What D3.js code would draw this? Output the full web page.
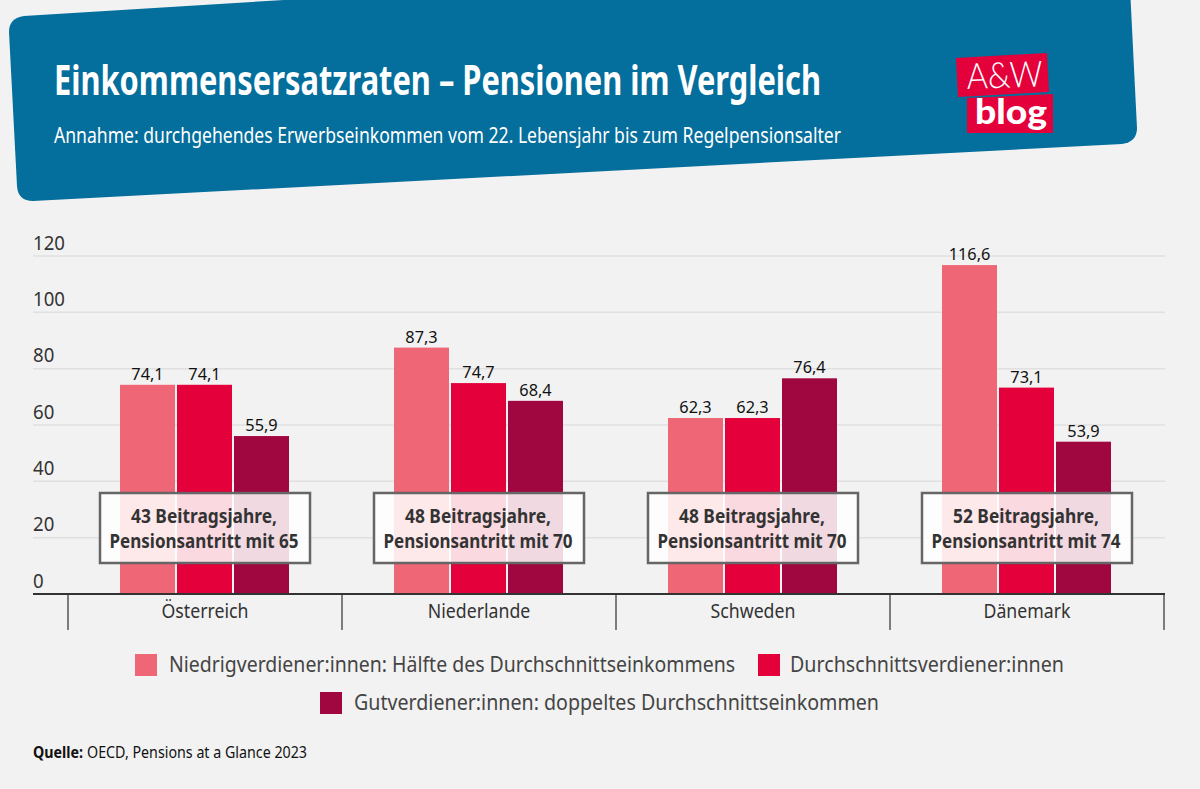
<!DOCTYPE html>
<html lang="de">
<head>
<meta charset="utf-8">
<title>Einkommensersatzraten</title>
<script src="https://cdn.jsdelivr.net/npm/d3@7"></script>
<style>
  html, body { margin: 0; padding: 0; background: #f2f2f2; }
  svg { display: block; }
  text { font-family: "Noto Sans", sans-serif; fill: #333; }
</style>
</head>
<body>
<svg id="chart" width="1200" height="789"></svg>
<script>
// Data.
const countries = ['Österreich', 'Niederlande', 'Schweden', 'Dänemark'];
const groups = ['niedrig', 'mittel', 'hoch'];
const niedrig = [74.1, 87.3, 62.3, 116.6];
const mittel = [74.1, 74.7, 62.3, 73.1];
const hoch = [55.9, 68.4, 76.4, 53.9];
const boxLine1 = ['43 Beitragsjahre,', '48 Beitragsjahre,', '48 Beitragsjahre,', '52 Beitragsjahre,'];
const boxLine2 = ['Pensionsantritt mit 65', 'Pensionsantritt mit 70', 'Pensionsantritt mit 70', 'Pensionsantritt mit 74'];
const yTicks = [0, 20, 40, 60, 80, 100, 120];
const legendLabels = [
  'Niedrigverdiener:innen: Hälfte des Durchschnittseinkommens',
  'Durchschnittsverdiener:innen',
  'Gutverdiener:innen: doppeltes Durchschnittseinkommen'
];

const seriesByGroup = { niedrig, mittel, hoch };
const colour = d3.scaleOrdinal().domain(groups).range(['#ef6676', '#e4003a', '#a00640']);

const svg = d3.select('#chart');

// Squeeze Noto Sans to the narrower widths of the original typeface.
function fit(sel, width) {
  sel.attr('textLength', width).attr('lengthAdjust', 'spacingAndGlyphs');
  return sel;
}
function squeeze(sel, k) {
  sel.each(function () {
    const w = this.getComputedTextLength();
    d3.select(this).attr('textLength', w * k).attr('lengthAdjust', 'spacingAndGlyphs');
  });
  return sel;
}

// Header banner
svg.append('path')
  .attr('fill', '#046e9c')
  .attr('d', 'M24,16 L1128,-52 L1137,128 Q1137,142 1122,144 L33,201 Q18,201 17,186 L9,32 Q9,18 24,16 Z');

fit(svg.append('text').attr('x', 54).attr('y', 95)
  .attr('font-size', 42).attr('font-weight', 700).style('fill', '#fff')
  .text('Einkommensersatzraten – Pensionen im Vergleich'), 767);

fit(svg.append('text').attr('x', 54).attr('y', 143)
  .attr('font-size', 22).style('fill', '#fff')
  .text('Annahme: durchgehendes Erwerbseinkommen vom 22. Lebensjahr bis zum Regelpensionsalter'), 787);

// Logo
svg.append('polygon').attr('points', '956,58 1047,53 1049,92 958,97').attr('fill', '#e4003a');
svg.append('polygon').attr('points', '967,98 1053,94 1053,133 967,133').attr('fill', '#e4003a');
fit(svg.append('text').attr('transform', 'translate(967,89) rotate(-2)')
  .attr('font-size', 36).style('font-family', 'Lato').attr('font-weight', 300).style('fill', '#fff')
  .text('A&W'), 76);
fit(svg.append('text').attr('x', 975).attr('y', 124)
  .attr('font-size', 34).style('font-family', 'Lato').attr('font-weight', 900).style('fill', '#fff')
  .text('blog'), 72);

// Scales
const x = d3.scaleBand().domain(countries).range([68, 1164]);
const xInner = d3.scaleBand().domain(groups).range([x.bandwidth() / 2 - 85, x.bandwidth() / 2 + 84]).paddingInner(2 / 57).paddingOuter(0);
const y = d3.scaleLinear().domain([0, 120]).range([593.5, 255.5]);

// Gridlines and y labels (labels sit on top of their gridline)
const yAxis = d3.axisLeft(y).tickValues(yTicks).tickSize(-1132).tickPadding(0);
const yG = svg.append('g').attr('transform', 'translate(1165,0)');
yG.call(d3.axisRight(y).tickValues(yTicks).tickSize(-1132).tickFormat(''));
yG.select('.domain').remove();
yG.selectAll('.tick line').attr('stroke', '#e0e0e0').attr('stroke-width', 1.5);

const yLabels = svg.append('g').attr('transform', 'translate(33,0)');
yLabels.call(yAxis.tickSize(0));
yLabels.select('.domain').remove();
yLabels.selectAll('.tick text')
  .attr('x', 0).attr('dy', -6.5).attr('y', 0)
  .attr('text-anchor', 'start').attr('dominant-baseline', 'auto')
  .attr('font-size', 20).attr('font-family', null)
  .call(squeeze, 0.93);

// Bars
const groupsG = svg.append('g').selectAll('g').data(countries).join('g')
  .attr('transform', d => `translate(${x(d)},0)`);

groups.forEach(key => {
  const vals = seriesByGroup[key];
  groupsG.append('rect')
    .attr('x', xInner(key))
    .attr('width', xInner.bandwidth())
    .attr('y', (d, i) => y(vals[i]))
    .attr('height', (d, i) => y(0) - y(vals[i]))
    .attr('fill', colour(key));
  groupsG.append('text')
    .attr('x', xInner(key) + xInner.bandwidth() / 2)
    .attr('y', (d, i) => y(vals[i]) - 5)
    .attr('text-anchor', 'middle')
    .attr('font-size', 17)
    .style('fill', '#111')
    .text((d, i) => String(vals[i]).replace('.', ','))
    .call(squeeze, 0.96);
});

// Annotation boxes
groupsG.append('rect')
  .attr('x', x.bandwidth() / 2 - 105)
  .attr('y', 493)
  .attr('width', 210)
  .attr('height', 70)
  .attr('fill', '#fff')
  .attr('fill-opacity', 0.85)
  .attr('stroke', '#666')
  .attr('stroke-width', 2.5);
groupsG.append('text')
  .attr('x', x.bandwidth() / 2 - 1).attr('y', 523)
  .attr('text-anchor', 'middle').attr('font-size', 19).attr('font-weight', 700)
  .text((d, i) => boxLine1[i])
  .call(fit, 146);
groupsG.append('text')
  .attr('x', x.bandwidth() / 2 - 1).attr('y', 548)
  .attr('text-anchor', 'middle').attr('font-size', 19).attr('font-weight', 700)
  .text((d, i) => boxLine2[i])
  .call(fit, 189);

// Category axis with separators at the band edges
const xAxisG = svg.append('g').attr('transform', 'translate(0,594)');
xAxisG.call(d3.axisBottom(x).tickSize(0).tickPadding(10));
xAxisG.select('.domain').remove();
xAxisG.selectAll('.tick text')
  .attr('font-size', 20).attr('font-family', null)
  .call(squeeze, 0.885);
xAxisG.selectAll('line.sep')
  .data(countries.map(c => x(c)).concat(x.range()[1]))
  .join('line')
  .attr('class', 'sep')
  .attr('x1', d => d).attr('x2', d => d)
  .attr('y1', 0).attr('y2', 36)
  .attr('stroke', '#555').attr('stroke-width', 1.5);
svg.append('line')
  .attr('x1', 33).attr('x2', 1165).attr('y1', 594).attr('y2', 594)
  .attr('stroke', '#333').attr('stroke-width', 2);

// Legend
const legendPos = [
  { sx: 135, sy: 654, tx: 169, ty: 672, w: 566 },
  { sx: 758, sy: 654, tx: 790, ty: 672, w: 274 },
  { sx: 320, sy: 692, tx: 354, ty: 710, w: 525 }
];
const legend = svg.append('g').selectAll('g').data(groups).join('g');
legend.append('rect')
  .attr('x', (d, i) => legendPos[i].sx).attr('y', (d, i) => legendPos[i].sy)
  .attr('width', 22).attr('height', 22)
  .attr('fill', d => colour(d));
legend.append('text')
  .attr('x', (d, i) => legendPos[i].tx).attr('y', (d, i) => legendPos[i].ty)
  .attr('font-size', 22)
  .style('fill', '#444')
  .text((d, i) => legendLabels[i])
  .each(function (d, i) { fit(d3.select(this), legendPos[i].w); });

// Source line
fit(svg.append('text').attr('x', 33).attr('y', 758).attr('font-size', 16)
  .attr('font-weight', 700).style('fill', '#111').text('Quelle:'), 50);
fit(svg.append('text').attr('x', 87).attr('y', 758).attr('font-size', 16)
  .style('fill', '#111').text('OECD, Pensions at a Glance 2023'), 220);
</script>
</body>
</html>
